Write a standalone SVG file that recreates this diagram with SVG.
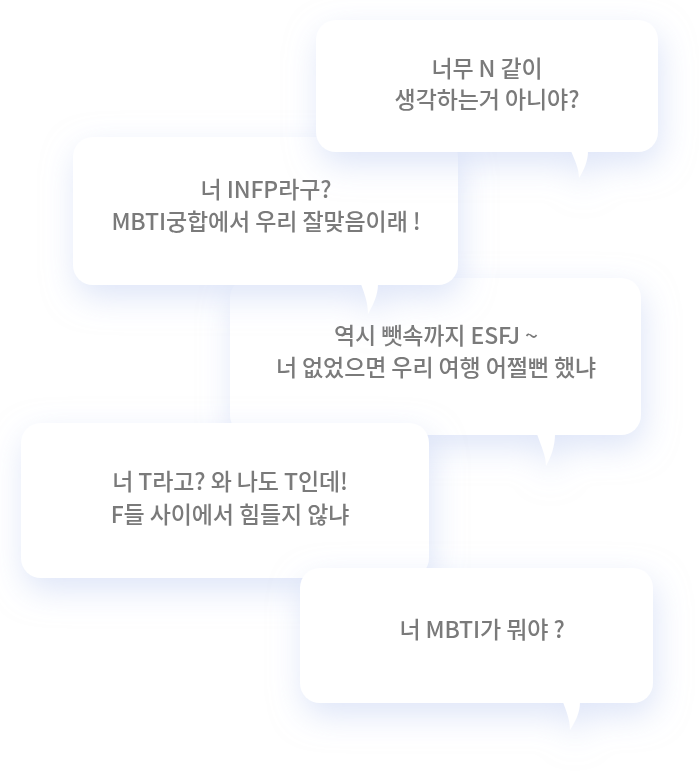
<svg xmlns="http://www.w3.org/2000/svg" width="699" height="772" viewBox="0 0 699 772">
<defs>
<filter id="sh" x="-25%" y="-40%" width="150%" height="200%">
<feDropShadow dx="3" dy="12" stdDeviation="16" flood-color="#c3d0f3" flood-opacity="0.55"/>
</filter>
</defs>
<style>
.b{fill:#ffffff}
.t{font-family:"Noto Sans CJK KR","Noto Sans",sans-serif;font-size:23px;font-weight:500;fill:#7a7a7a;text-anchor:middle;letter-spacing:-0.1px}
</style>
<rect width="699" height="772" fill="#ffffff"/>
<g id="bubble3" filter="url(#sh)">
<rect class="b" x="230" y="278" width="411" height="157" rx="20"/>
<path class="b" d="M537,434 C541,446 546,455 546,466 C551,457 555,446 555,434 Z"/>
<text class="t" x="436" y="344">역시 뺏속까지 ESFJ ~</text>
<text class="t" x="436" y="376">너 없었으면 우리 여행 어쩔뻔 했냐</text>
</g>
<g id="bubble2" filter="url(#sh)">
<rect class="b" x="73" y="137" width="385" height="148" rx="20"/>
<path class="b" d="M361,284 C365,295 368,303 368,314 C373,305 378,295 378,284 Z"/>
<text class="t" x="266" y="198">너 INFP라구?</text>
<text class="t" x="266" y="230">MBTI궁합에서 우리 잘맞음이래 !</text>
</g>
<g id="bubble1" filter="url(#sh)">
<rect class="b" x="316" y="20" width="342" height="132" rx="20"/>
<path class="b" d="M571,151 C575,161 579,168 579,178 C584,170 588,161 588,151 Z"/>
<text class="t" x="487" y="77">너무 N 같이</text>
<text class="t" x="487" y="108">생각하는거 아니야?</text>
</g>
<g id="bubble4" filter="url(#sh)">
<rect class="b" x="21" y="423" width="408" height="155" rx="20"/>
<text class="t" x="230" y="490">너 T라고? 와 나도 T인데!</text>
<text class="t" x="230" y="523">F들 사이에서 힘들지 않냐</text>
</g>
<g id="bubble5" filter="url(#sh)">
<rect class="b" x="300" y="568" width="353" height="135" rx="20"/>
<path class="b" d="M563,702 C567,713 570,720 570,730 C575,722 580,713 580,702 Z"/>
<text class="t" x="482" y="638">너 MBTI가 뭐야 ?</text>
</g>
<g id="connectors"/>
</svg>
